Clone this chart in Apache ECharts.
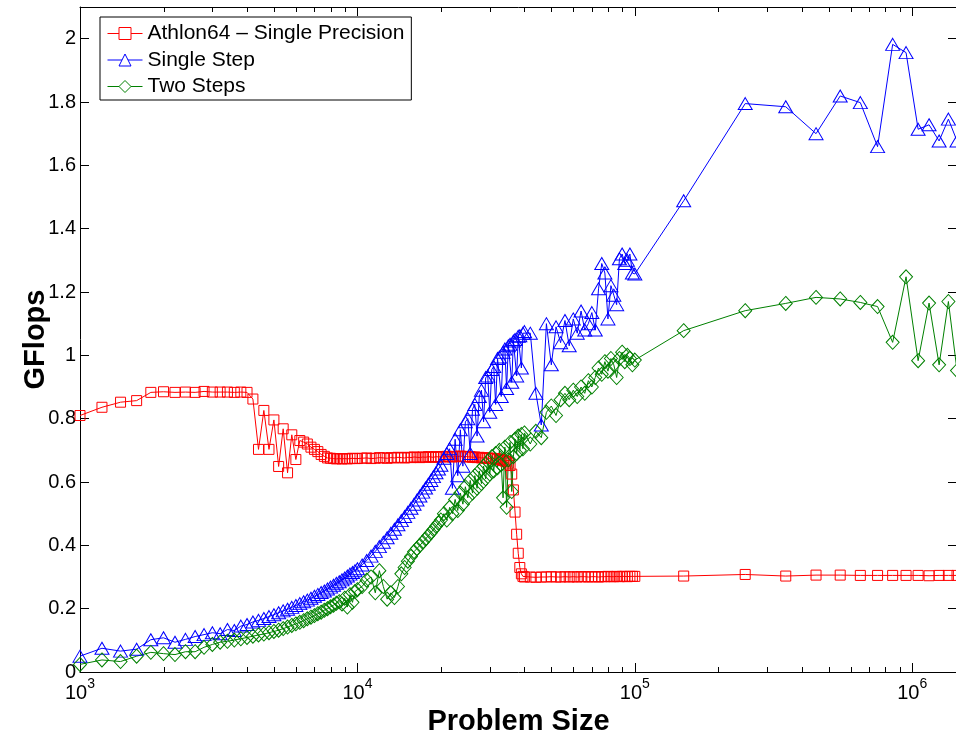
<!DOCTYPE html>
<html><head><meta charset="utf-8">
<script src="https://cdn.jsdelivr.net/npm/echarts@6/dist/echarts.min.js"></script>
<style>html,body{margin:0;padding:0;background:#fff}#c{width:956px;height:735px}</style>
</head><body><div id="c"></div>
<script>
// Problem sizes (x values, shared by all three series)
const sizes = [
1000,1200,1400,1600,1800,2000,2200,2400,2600,2800,
3000,3200,3400,3600,3800,4000,4200,4400,4600,4800,
5000,5200,5400,5600,5800,6000,6200,6400,6600,6800,
7000,7200,7400,7600,7800,8000,8200,8400,8600,8800,
9000,9200,9400,9600,9800,10000,
10400,10800,11200,11600,12000,12400,12800,13200,13600,14000,
14400,14800,15200,15600,16000,16400,16800,17200,17600,18000,
18400,18800,19200,19600,20000,
20500,21000,21500,22000,22500,23000,23500,24000,24500,25000,
25500,26000,26500,27000,27500,28000,28500,29000,29500,30000,
30500,31000,31500,32000,32500,33000,33500,34000,34500,35000,
35500,36000,36500,37000,37500,38000,38500,39000,39500,40000,
42000,44000,46000,48000,50000,52000,54000,56000,58000,60000,
62000,64000,66000,68000,70000,72000,74000,76000,78000,80000,
82000,84000,86000,88000,90000,92000,94000,96000,98000,100000,
150000,250000,350000,450000,550000,650000,750000,850000,950000,1050000,
1150000,1250000,1350000,1450000
];
// Athlon64 - Single Precision (GFlops)
const athlon = [
0.810,0.836,0.852,0.857,0.883,0.885,0.883,0.884,0.883,0.886,
0.884,0.884,0.884,0.883,0.884,0.883,0.862,0.703,0.826,0.703,
0.796,0.649,0.768,0.629,0.749,0.671,0.731,0.726,0.720,0.710,
0.703,0.696,0.687,0.681,0.676,0.675,0.674,0.673,0.674,0.673,
0.674,0.673,0.674,0.675,0.674,0.674,
0.675,0.676,0.674,0.675,0.677,0.676,0.675,0.677,0.676,0.678,
0.677,0.676,0.678,0.677,0.679,0.678,0.677,0.679,0.678,0.680,
0.679,0.678,0.680,0.679,0.680,
0.679,0.681,0.680,0.679,0.681,0.680,0.682,0.680,0.681,0.679,
0.680,0.678,0.679,0.677,0.678,0.676,0.677,0.675,0.676,0.674,
0.675,0.673,0.674,0.672,0.671,0.670,0.668,0.666,0.664,0.660,
0.652,0.625,0.575,0.505,0.435,0.375,0.330,0.310,0.302,0.300,
0.300,0.299,0.300,0.300,0.301,0.300,0.300,0.301,0.300,0.301,
0.300,0.301,0.301,0.300,0.301,0.301,0.300,0.301,0.301,0.302,
0.301,0.301,0.302,0.301,0.302,0.302,0.301,0.302,0.302,0.302,
0.303,0.308,0.303,0.306,0.306,0.305,0.305,0.305,0.305,0.305,
0.304,0.305,0.305,0.305
];
// Single Step (GFlops)
const singleStep = [
0.050,0.075,0.066,0.072,0.102,0.108,0.094,0.103,0.112,0.118,
0.124,0.121,0.134,0.131,0.145,0.150,0.158,0.163,0.169,0.175,
0.181,0.187,0.193,0.198,0.204,0.210,0.216,0.222,0.227,0.233,
0.239,0.245,0.251,0.256,0.262,0.268,0.274,0.280,0.285,0.291,
0.297,0.303,0.309,0.314,0.320,0.326,
0.338,0.352,0.366,0.381,0.396,0.410,0.424,0.438,0.451,0.465,
0.478,0.491,0.504,0.517,0.530,0.543,0.556,0.568,0.581,0.593,
0.605,0.617,0.629,0.641,0.653,
0.675,0.690,0.705,0.580,0.735,0.620,0.765,0.650,0.790,0.800,
0.690,0.830,0.845,0.745,0.870,0.890,0.790,0.930,0.935,0.820,
0.955,0.965,0.845,0.990,0.995,0.870,1.010,1.020,0.895,1.030,
1.035,0.915,1.045,1.050,0.935,1.060,1.062,0.960,1.070,1.075,
1.070,0.880,0.780,1.100,0.970,1.090,1.040,1.110,1.030,1.115,
1.070,1.140,1.080,1.100,1.135,1.080,1.210,1.290,1.260,1.115,
1.220,1.190,1.160,1.305,1.320,1.290,1.300,1.320,1.260,1.257,
1.488,1.795,1.785,1.700,1.819,1.798,1.659,1.982,1.956,1.714,
1.728,1.677,1.746,1.677
];
// Two Steps (GFlops)
const twoSteps = [
0.024,0.038,0.033,0.050,0.062,0.058,0.055,0.064,0.064,0.078,
0.087,0.094,0.097,0.101,0.105,0.109,0.113,0.117,0.120,0.124,
0.128,0.132,0.137,0.142,0.147,0.152,0.157,0.162,0.168,0.173,
0.178,0.184,0.189,0.195,0.200,0.206,0.211,0.217,0.222,0.215,
0.233,0.205,0.244,0.220,0.254,0.260,
0.270,0.290,0.300,0.250,0.320,0.270,0.230,0.250,0.235,0.270,
0.310,0.330,0.350,0.365,0.380,0.390,0.400,0.410,0.420,0.430,
0.440,0.450,0.460,0.470,0.480,
0.500,0.480,0.520,0.500,0.545,0.510,0.565,0.530,0.585,0.550,
0.605,0.565,0.620,0.580,0.635,0.595,0.650,0.610,0.665,0.625,
0.680,0.635,0.690,0.645,0.700,0.655,0.550,0.710,0.520,0.670,
0.725,0.570,0.680,0.735,0.690,0.745,0.700,0.750,0.705,0.755,
0.720,0.760,0.740,0.820,0.840,0.810,0.860,0.880,0.860,0.890,
0.870,0.900,0.880,0.920,0.900,0.930,0.960,0.940,0.980,0.950,
0.990,0.970,0.930,0.990,1.010,0.980,1.000,0.990,0.970,0.985,
1.078,1.141,1.164,1.183,1.178,1.167,1.154,1.041,1.248,0.983,
1.165,0.970,1.170,0.952
];
const seriesNames = ['Athlon64 \u2013 Single Precision', 'Single Step', 'Two Steps'];
const xMinorTicks = [2000,3000,4000,5000,6000,7000,8000,9000,
  20000,30000,40000,50000,60000,70000,80000,90000,
  200000,300000,400000,500000,600000,700000,800000,900000];
const X_MIN = 1000, X_MAX = 1450000, Y_MIN = 0, Y_MAX = 2.1, Y_STEP = 0.2;

const FONT = "'Liberation Sans', Arial, Helvetica, sans-serif";
const pairs = ys => sizes.map((x, i) => [x, ys[i]]);

const chart = echarts.init(document.getElementById('c'), null, {renderer: 'canvas'});

function lineSeries(name, ys, color, symbol, size) {
  return {
    name, type: 'line', data: pairs(ys), xAxisIndex: 0, yAxisIndex: 0,
    symbol, symbolSize: size, clip: false, showAllSymbol: true,
    lineStyle: {color, width: 1},
    itemStyle: {color: 'rgba(255,255,255,0)', borderColor: color, borderWidth: 1},
    emphasis: {disabled: true}, animation: false
  };
}
const axisCommon = {
  axisLine: {show: true, onZero: false, lineStyle: {color: '#000', width: 1}},
  axisTick: {show: true, inside: true, length: 9, lineStyle: {color: '#000', width: 1}},
  splitLine: {show: false}
};
const option = {
  animation: false,
  backgroundColor: '#fff',
  grid: {left: 80, right: -1, top: 7, bottom: 63, containLabel: false, outerBoundsMode: 'none'},
  legend: {
    orient: 'vertical', left: 100, top: 17,
    backgroundColor: '#fff', borderColor: '#000', borderWidth: 1, borderRadius: 0,
    padding: [6, 7, 3, 7], itemWidth: 35, itemHeight: 15, itemGap: 5.5,
    textStyle: {fontFamily: FONT, fontSize: 21, color: '#000', lineHeight: 21},
    selectedMode: false,
    data: [
      {name: seriesNames[0], itemStyle: {color: '#fff', borderColor: '#ff0000', borderWidth: 1}, lineStyle: {color: '#ff0000', width: 1}},
      {name: seriesNames[1], itemStyle: {color: '#fff', borderColor: '#0000ff', borderWidth: 1}, lineStyle: {color: '#0000ff', width: 1}},
      {name: seriesNames[2], itemStyle: {color: '#fff', borderColor: '#008000', borderWidth: 1}, lineStyle: {color: '#008000', width: 1}}
    ]
  },
  xAxis: [
    Object.assign({}, axisCommon, {
      type: 'log', logBase: 10, min: X_MIN, max: X_MAX, position: 'bottom',
      axisLabel: {
        show: true, margin: 5, showMaxLabel: false, color: '#000',
        formatter: v => '{b|10}{s|' + Math.round(Math.log10(v)) + '}',
        rich: {
          b: {fontFamily: FONT, fontSize: 20, color: '#000', lineHeight: 26, verticalAlign: 'bottom'},
          s: {fontFamily: FONT, fontSize: 14, color: '#000', lineHeight: 14, verticalAlign: 'top'}
        }
      },
      name: 'Problem Size', nameLocation: 'middle', nameGap: 22,
      nameTextStyle: {fontFamily: FONT, fontSize: 29, fontWeight: 'bold', color: '#000'}
    }),
    Object.assign({}, axisCommon, {
      type: 'log', logBase: 10, min: X_MIN, max: X_MAX, position: 'top',
      axisLabel: {show: false}
    })
  ],
  yAxis: [
    Object.assign({}, axisCommon, {
      type: 'value', min: Y_MIN, max: Y_MAX, interval: Y_STEP, position: 'left',
      axisLabel: {show: true, margin: 4, showMaxLabel: false, fontFamily: FONT, fontSize: 20, color: '#000'},
      name: 'GFlops', nameLocation: 'middle', nameGap: 30, nameRotate: 90, nameMoveOverlap: false,
      nameTextStyle: {fontFamily: FONT, fontSize: 29, fontWeight: 'bold', color: '#000'}
    }),
    Object.assign({}, axisCommon, {
      type: 'value', min: Y_MIN, max: Y_MAX, interval: Y_STEP, position: 'right',
      axisLabel: {show: false}
    })
  ],
  series: [
    lineSeries(seriesNames[0], athlon, '#ff0000', 'rect', [10, 10]),
    lineSeries(seriesNames[1], singleStep, '#0000ff', 'triangle', [14, 12]),
    lineSeries(seriesNames[2], twoSteps, '#008000', 'diamond', [13, 14]),
    {
      type: 'custom', silent: true, clip: false, z: 10, xAxisIndex: 0, yAxisIndex: 0,
      data: xMinorTicks.map(v => [v, Y_MIN]),
      renderItem: (params, api) => {
        const b = api.coord([api.value(0), Y_MIN]);
        const t = api.coord([api.value(0), Y_MAX]);
        const x = Math.round(b[0]) + 0.5;
        return {type: 'group', children: [
          {type: 'line', shape: {x1: x, y1: b[1], x2: x, y2: b[1] - 5}, style: {stroke: '#000', lineWidth: 1}},
          {type: 'line', shape: {x1: x, y1: t[1], x2: x, y2: t[1] + 5}, style: {stroke: '#000', lineWidth: 1}}
        ]};
      }
    }
  ]
};
chart.setOption(option);
</script>
</body></html>
